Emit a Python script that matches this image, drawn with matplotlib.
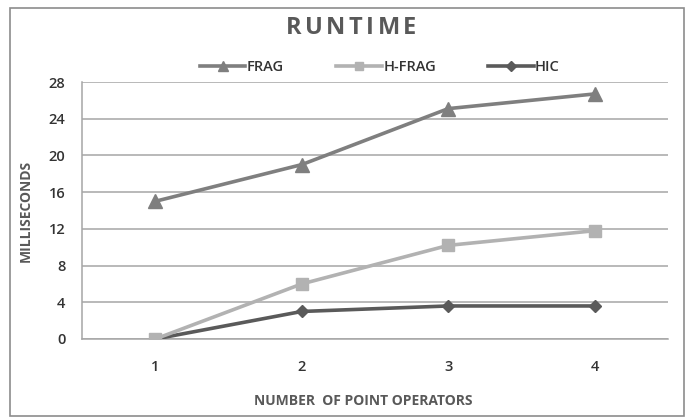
import matplotlib
matplotlib.use("Agg")
import matplotlib.pyplot as plt
from matplotlib.patches import Rectangle

# Runtime measurements (milliseconds) per number of point operators
operators = [1, 2, 3, 4]
frag = [15.0, 19.0, 25.1, 26.7]
h_frag = [0.0, 6.0, 10.2, 11.8]
hic = [0.0, 3.0, 3.6, 3.6]
y_ticks = [0, 4, 8, 12, 16, 20, 24, 28]
title = 'RUNTIME'

plt.rcParams['font.family'] = ['Open Sans', 'DejaVu Sans']

W, H = 686, 417
fig = plt.figure(figsize=(W / 100, H / 100), dpi=100)
fig.patch.set_facecolor('white')

# outer chart frame
fig.patches.append(Rectangle((10 / W, 1 / H), 674 / W, 408 / H,
                             transform=fig.transFigure, fill=False,
                             edgecolor='#8c8c8c', linewidth=1.2))

ax = fig.add_axes([82 / W, 1 - 339 / H, 586 / W, 257 / H])

ax.plot(operators, frag, color='#7f7f7f', lw=2.6, marker='^', ms=10,
        label='FRAG', zorder=3)
ax.plot(operators, h_frag, color='#b2b2b2', lw=2.6, marker='s', ms=8,
        label='H-FRAG', zorder=4)
ax.plot(operators, hic, color='#5a5a5a', lw=2.6, marker='D', ms=6.5,
        label='HIC', zorder=3)

ax.set_xlim(0.5, 4.5)
ax.set_ylim(0, 28)
ax.set_xticks(operators)
ax.set_yticks(y_ticks)
ax.tick_params(axis='both', length=0, labelsize=10.5, labelcolor='#333333')
ax.tick_params(axis='x', pad=15)
ax.tick_params(axis='y', pad=12)
for lab in ax.get_xticklabels() + ax.get_yticklabels():
    lab.set_fontweight('semibold')

ax.grid(axis='y', color='#a6a6a6', linewidth=1.1)
ax.set_axisbelow(True)
for side in ['top', 'right']:
    ax.spines[side].set_visible(False)
for side in ['left', 'bottom']:
    ax.spines[side].set_color('#a6a6a6')
    ax.spines[side].set_linewidth(1.1)

ax.set_ylabel('MILLISECONDS', fontsize=10, fontweight='bold', color='#595959')
ax.set_xlabel('NUMBER  OF POINT OPERATORS', fontsize=10, fontweight='bold',
              color='#595959')
ax.yaxis.set_label_coords((26 - 82) / 586, 0.5)
ax.xaxis.set_label_coords((363 - 82) / 586, (339 - 401) / 257)
ax.xaxis.label.set_va('center')
ax.yaxis.label.set_va('center')

leg = ax.legend(loc='center', bbox_to_anchor=((380 - 82) / 586, 1 + 15 / 257),
                ncol=3, frameon=False, fontsize=10.5, handlelength=3.1,
                columnspacing=3.6, handletextpad=0.1, borderaxespad=0,
                markerscale=0.75)
for t in leg.get_texts():
    t.set_color('#333333')
    t.set_fontweight('semibold')

# letter-spaced chart title
renderer = fig.canvas.get_renderer()
letters = [fig.text(0, 1 - 28 / H, ch, ha='left', va='center', fontsize=17,
                    fontweight='bold', color='#595959') for ch in title]
widths = [t.get_window_extent(renderer).width for t in letters]
spacing = 3.5
total = sum(widths) + spacing * (len(letters) - 1)
x = 351 - total / 2
for t, w in zip(letters, widths):
    t.set_x(x / W)
    x += w + spacing

fig.savefig('out.png', dpi=100)
